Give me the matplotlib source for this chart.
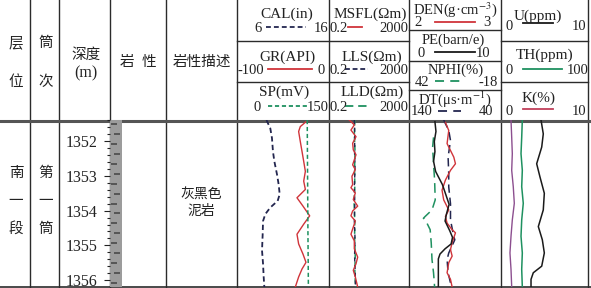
import numpy as np
import matplotlib.pyplot as plt

W, H = 591, 288
plt.rcParams['font.family'] = ['Liberation Serif', 'Noto Sans CJK SC']
plt.rcParams['mathtext.fontset'] = 'stix'
plt.rcParams['lines.scale_dashes'] = False

# depth window of the log (m)
depth_top, depth_bot = 1351.39, 1356.20
depth_ticks = [1352, 1353, 1354, 1355, 1356]

# track 1
cal_depth = [1351.39, 1351.63, 1351.91, 1352.30, 1352.58, 1352.96, 1353.25, 1353.53,
             1353.72, 1353.91, 1354.10, 1354.30, 1354.68, 1355.15, 1355.53, 1355.91, 1356.20]
cal = [9.2, 9.62, 9.80, 9.91, 10.06, 10.35, 10.53, 10.64,
       10.42, 9.62, 9.08, 8.83, 8.79, 8.72, 8.83, 8.90, 8.97]
gr_depth = [1351.44, 1351.58, 1351.72, 1352.01, 1352.30, 1352.58, 1352.87, 1353.15, 1353.39, 1353.63,
            1353.87, 1354.15, 1354.39, 1354.68, 1354.96, 1355.25, 1355.49, 1355.68, 1355.91, 1356.20]
gr = [-25.0, -31.2, -33.0, -31.2, -29.3, -27.5, -25.7, -27.5, -25.7, -34.8,
      -28.3, -21.0, -27.5, -34.8, -33.0, -28.3, -25.0, -29.3, -33.0, -36.6]
sp_depth = [1351.39, 1352.8, 1354.5, 1356.20]
sp = [114.5, 115.0, 115.6, 116.4]

# track 2 (ohm.m)
msfl_depth = [1351.39, 1351.53, 1351.68, 1351.87, 1352.06, 1352.25, 1352.39, 1352.68, 1352.82,
              1353.01, 1353.25, 1353.34, 1353.49, 1353.68, 1353.87, 1354.01, 1354.15, 1354.30,
              1354.53, 1354.68, 1354.87, 1355.10, 1355.34, 1355.53, 1355.72, 1355.91, 1356.20]
msfl = [2.06, 3.69, 2.50, 4.48, 3.04, 3.28, 4.48, 3.04, 4.14,
        2.81, 3.04, 2.50, 4.14, 3.28, 5.44, 3.04, 2.50, 4.14,
        3.04, 2.50, 3.69, 3.69, 5.44, 4.48, 3.28, 4.14, 5.44]
res_depth = [1351.39, 1351.8, 1352.3, 1352.8, 1353.3, 1353.8, 1354.3, 1354.8, 1355.3, 1355.8, 1356.20]
lld = [3.9, 3.7, 4.0, 3.8, 3.9, 3.6, 3.9, 3.8, 4.1, 3.9, 4.3]
lls = [3.7, 3.9, 3.8, 4.0, 3.7, 3.9, 3.7, 4.0, 3.8, 4.1, 4.2]

# track 3
pe_depth = [1351.44, 1351.72, 1352.01, 1352.30, 1352.58, 1352.87, 1353.06, 1353.25, 1353.53, 1353.82,
            1354.10, 1354.30, 1354.58, 1354.77, 1354.96, 1355.10, 1355.25, 1355.39, 1356.20]
pe = [2.82, 2.93, 2.75, 2.82, 2.67, 2.89, 3.26, 3.63, 3.99, 4.36,
      4.07, 3.92, 4.43, 4.73, 4.58, 3.92, 3.37, 3.19, 3.19]
den_depth = [1351.46, 1351.69, 1352.07, 1352.46, 1352.65, 1352.84, 1353.12, 1353.41, 1353.69, 1353.98,
             1354.17, 1354.36, 1354.55, 1354.64, 1354.92, 1355.12, 1355.31, 1355.50, 1355.79, 1355.98, 1356.20]
den = [2.396, 2.432, 2.414, 2.487, 2.505, 2.451, 2.396, 2.359, 2.377, 2.432,
       2.396, 2.414, 2.469, 2.505, 2.469, 2.451, 2.469, 2.432, 2.414, 2.451, 2.469]
dt_depth = [1351.39, 1351.69, 1351.98, 1352.46, 1352.94, 1353.32, 1353.80, 1354.27, 1354.75, 1354.84,
            1355.22, 1355.41, 1355.79, 1356.08, 1356.20]
dt = [102.3, 96.8, 94.9, 97.5, 96.8, 96.8, 94.9, 94.9, 91.3, 90.2,
      96.8, 98.6, 97.5, 94.9, 93.1]
nphi_depth = [1351.89, 1352.17, 1352.65, 1353.12, 1353.69, 1353.98, 1354.17, 1354.22, 1354.36,
              1354.55, 1354.93, 1355.41, 1355.79, 1356.20]
nphi = [26.0, 26.6, 26.0, 25.3, 24.9, 27.0, 31.5, 32.6, 30.3, 28.2, 27.5, 27.0, 26.0, 25.3]

# track 4
spec_depth = [1351.39, 1351.89, 1352.36, 1352.84, 1353.31, 1353.79, 1354.27, 1354.74,
              1355.22, 1355.69, 1356.20]
k = [1.15, 1.23, 1.30, 1.23, 1.41, 1.53, 1.30, 1.15, 1.03, 1.15, 1.23]
th = [24.5, 23.8, 23.0, 24.5, 23.8, 25.6, 23.8, 23.0, 24.5, 23.8, 24.5]
u_depth = [1351.39, 1351.79, 1352.17, 1352.65, 1353.03, 1353.50, 1353.98, 1354.46,
           1354.84, 1355.22, 1355.60, 1355.79, 1355.98, 1356.20]
u = [4.60, 4.86, 4.68, 4.10, 4.48, 4.98, 4.86, 4.29, 4.75, 4.98, 4.68, 3.71, 3.45, 3.45]

RED = '#d0343a'
NAVY = '#23264f'
GREEN = '#1f9160'
BLACK = '#1a1a1a'
PURPLE = '#8c4f8f'
LINE = '#2b2b2b'
TXT = '#222222'

fig = plt.figure(figsize=(W / 100, H / 100), dpi=100)
base = fig.add_axes([0, 0, 1, 1])
base.set_xlim(0, W)
base.set_ylim(H, 0)
base.axis('off')


def px_axes(x0, x1, y0, y1):
    return fig.add_axes([x0 / W, 1 - y1 / H, (x1 - x0) / W, (y1 - y0) / H])


def curve_axes(x0, x1, lo, hi, log=False):
    ax = px_axes(x0, x1, 120, 287)
    if log:
        ax.set_xscale('log')
    ax.set_xlim(lo, hi)
    ax.set_ylim(depth_bot, depth_top)
    ax.axis('off')
    return ax


# table lines
for x in [30, 59, 110, 166, 237, 329, 409, 501, 588]:
    base.plot([x, x], [0, 287], color=LINE, lw=1.0)
for y in [41, 82]:
    base.plot([237, 409], [y, y], color=LINE, lw=1.0)
    base.plot([501, 588], [y, y], color=LINE, lw=1.0)
for y in [30, 61, 90]:
    base.plot([409, 501], [y, y], color=LINE, lw=1.0)
base.plot([0, W], [120.5, 120.5], color='#555555', lw=2.2)
base.plot([0, W], [287, 287], color=LINE, lw=1.2)

# column headers
zh = dict(ha='center', va='center', fontsize=10.5, color=TXT, family=['Noto Sans CJK SC'])
base.text(16, 43, '层', **zh)
base.text(16, 82, '位', **zh)
base.text(46, 43, '筒', **zh)
base.text(46, 82, '次', **zh)
base.text(86, 55, '深度', **zh)
base.text(86, 77, '(m)', ha='center', va='baseline', fontsize=11.5, color=TXT)
base.text(127, 62, '岩', **zh)
base.text(149, 62, '性', **zh)
base.text(202, 62, '岩性描述', **zh)

base.text(16, 173, '南', **zh)
base.text(16, 201, '一', **zh)
base.text(16, 229, '段', **zh)
base.text(46, 173, '第', **zh)
base.text(46, 201, '一', **zh)
base.text(46, 229, '筒', **zh)
zh_small = dict(zh, fontsize=10)
base.text(201, 195, '灰黑色', **zh_small)
base.text(201, 211, '泥岩', **zh_small)


def legend_entry(name, xc, y_name, lo, hi, x_lo, x_hi, y_scale, lx0, lx1, color,
                 dashes=None, y_line=None, fs=10.5):
    base.text(xc, y_name + 5, name, ha='center', va='baseline', fontsize=fs, color=TXT)
    base.text(x_lo, y_scale + 4.6, lo, ha='left', va='baseline', fontsize=10.5, color=TXT)
    base.text(x_hi, y_scale + 4.6, hi, ha='right', va='baseline', fontsize=10.5, color=TXT)
    yl = y_scale if y_line is None else y_line
    kw = dict(color=color, lw=1.3)
    if dashes is not None:
        kw['dashes'] = dashes
    base.plot([lx0, lx1], [yl, yl], **kw)


legend_entry('CAL(in)', 287, 13, '6', '16', 254, 328, 27, 266, 306, NAVY, (3.5, 2.2), fs=11)
legend_entry('GR(API)', 287, 56, '-100', '0', 237.5, 325, 69, 268, 312, RED, fs=11)
legend_entry('SP(mV)', 284, 91, '0', '150', 254, 329, 106, 268, 309, GREEN, (3.0, 2.0), fs=11)
legend_entry('MSFL(Ωm)', 370, 13, '0.2', '2000', 330, 408.5, 27, 348, 362, RED, fs=11)
legend_entry('LLS(Ωm)', 372, 56, '0.2', '2000', 330, 408.5, 69, 345, 368, NAVY, (3.5, 2.0), fs=11)
legend_entry('LLD(Ωm)', 372, 91, '0.2', '2000', 330, 408.5, 106, 345, 367, GREEN, (6.0, 3.5), fs=11)
legend_entry('DEN(g·cm$^{-3}$)', 455, 8.5, '2', '3', 414, 491, 21.5, 435, 475, RED)
legend_entry('PE(barn/e)', 453, 39, '0', '10', 418, 490, 52, 435, 475, BLACK)
legend_entry('NPHI(%)', 456, 69, '42', '-18', 415, 498, 81, 435, 460, GREEN, (6.5, 4.5))
legend_entry('DT(μs·m$^{-1}$)', 455, 98.5, '140', '40', 411, 493, 110.5, 438, 461, NAVY, (6.5, 4.5))
legend_entry('U(ppm)', 538, 15, '0', '10', 505, 586, 25, 523, 553, BLACK, y_line=23, fs=11)
legend_entry('TH(ppm)', 545, 54, '0', '100', 505, 588.5, 69, 523, 562, GREEN, fs=11)
legend_entry('K(%)', 539, 97, '0', '10', 505, 586, 110, 523, 553, '#c0405a', y_line=109, fs=11)

# depth ruler + lithology bar
lith = px_axes(110, 122, 120, 287)
lith.set_xlim(0, 1)
lith.set_ylim(depth_bot, depth_top)
lith.fill_betweenx([depth_top, depth_bot], 0, 1, color='#9c9c9c', lw=0)
marks = np.arange(depth_top + 0.12, depth_bot, 10 / 35)
lith.hlines(marks[::2], 0.1, 0.55, color='#4a4a4a', lw=1.2)
lith.hlines(marks[1::2], 0.3, 0.85, color='#4a4a4a', lw=1.2)
lith.set_yticks(depth_ticks)
lith.set_yticks(np.arange(1351.4, 1356.2, 0.2), minor=True)
lith.set_xticks([])
lith.tick_params(axis='y', which='major', length=4.5, width=0.8, pad=4.5, labelsize=11.5,
                 colors=TXT)
lith.tick_params(axis='y', which='minor', length=2.5, width=0.8, colors=TXT)
for s in lith.spines.values():
    s.set_visible(False)

# track 1
ax = curve_axes(237, 329, 6, 16)
ax.plot(cal, cal_depth, color=NAVY, lw=1.3, dashes=(3.8, 2.4))
ax = curve_axes(237, 329, -100, 0)
ax.plot(gr, gr_depth, color=RED, lw=1.0)
ax = curve_axes(237, 329, 0, 150)
ax.plot(sp, sp_depth, color=GREEN, lw=1.1, dashes=(3.0, 2.0))

# track 2
ax = curve_axes(329, 409, 0.2, 2000, log=True)
ax.plot(lld, res_depth, color=GREEN, lw=1.1, dashes=(4.0, 2.0))
ax.plot(lls, res_depth, color=NAVY, lw=1.0, dashes=(3.0, 2.5))
ax.plot(msfl, msfl_depth, color=RED, lw=1.0)

# track 3
ax = curve_axes(409, 501, 42, -18)
ax.plot(nphi, nphi_depth, color=GREEN, lw=1.1, dashes=(7.0, 4.0))
ax = curve_axes(409, 501, 140, 40)
ax.plot(dt, dt_depth, color=NAVY, lw=1.1, dashes=(6.0, 3.5))
ax = curve_axes(409, 501, 2, 3)
ax.plot(den, den_depth, color=RED, lw=1.0)
ax = curve_axes(409, 501, 0, 10)
ax.plot(pe, pe_depth, color=BLACK, lw=1.1)

# track 4
ax = curve_axes(501, 588, 0, 10)
ax.plot(k, spec_depth, color=PURPLE, lw=1.0)
ax = curve_axes(501, 588, 0, 100)
ax.plot(th, spec_depth, color=GREEN, lw=1.1)
ax = curve_axes(501, 588, 0, 10)
ax.plot(u, u_depth, color=BLACK, lw=1.1)

fig.savefig('out.png', dpi=100)
